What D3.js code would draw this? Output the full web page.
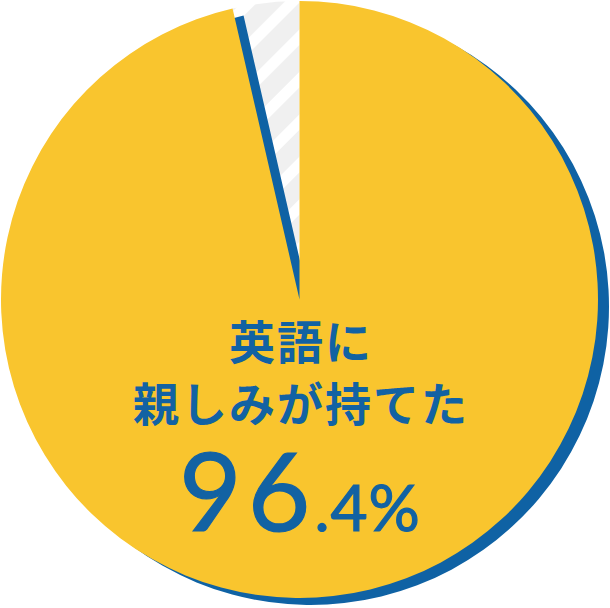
<!DOCTYPE html>
<html lang="ja">
<head>
<meta charset="utf-8">
<script src="https://cdn.jsdelivr.net/npm/d3@7"></script>
<style>
  html, body { margin: 0; padding: 0; background: #fff; }
</style>
</head>
<body>
<div id="chart"></div>
<script>
// chart values
const categories = ["英語に親しみが持てた", "その他"];
const values = [96.4, 3.6];
const labelLines = ["英語に", "親しみが持てた"];
const bigNumber = "96";
const smallNumber = ".4%";

const width = 610;
const height = 608;
const cx = 299.5, cy = 299.5, radius = 298.5;

const svg = d3.select('#chart')
    .append('svg')
    .attr('width', width)
    .attr('height', height);

// hatch pattern for the small slice
const defs = svg.append('defs');
const pattern = defs.append('pattern')
    .attr('id', 'hatch')
    .attr('patternUnits', 'userSpaceOnUse')
    .attr('width', 30)
    .attr('height', 30)
    .attr('patternTransform', 'rotate(45)');
pattern.append('rect').attr('width', 30).attr('height', 30).attr('fill', '#ffffff');
pattern.append('rect').attr('width', 19).attr('height', 30).attr('fill', '#f0f0f0');

const pie = d3.pie().sort(null).value(d => d);
const arcs = pie(values);

const arc = d3.arc().innerRadius(0).outerRadius(radius);

const g = svg.append('g')
    .attr('transform', `translate(${cx}, ${cy})`);

// hatched slice
g.append('path')
    .datum(arcs[1])
    .attr('d', arc)
    .attr('fill', 'url(#hatch)');

// blue shadow of the main slice
g.append('path')
    .datum(arcs[0])
    .attr('d', arc)
    .attr('transform', 'translate(11, 7)')
    .attr('fill', '#0f62a4');

// main slice
g.append('path')
    .datum(arcs[0])
    .attr('d', arc)
    .attr('fill', '#f9c52e');

// labels
const blue = '#1262a3';
const label = svg.append('g')
    .attr('fill', blue)
    .attr('text-anchor', 'middle');

label.selectAll('text.line')
    .data(labelLines)
    .enter()
    .append('text')
    .attr('class', 'line')
    .attr('x', 301)
    .attr('y', (d, i) => 359 + i * 62)
    .style('font-family', '"Noto Sans CJK JP", "Noto Sans", sans-serif')
    .style('font-weight', 700)
    .style('font-size', '46px')
    .style('letter-spacing', '2px')
    .text(d => d);

const num = label.append('text')
    .attr('x', 300)
    .attr('y', 531)
    .attr('stroke', blue)
    .attr('stroke-width', 1.2)
    .style('font-family', 'Lato, "Noto Sans", sans-serif')
    .style('font-weight', 400);
num.append('tspan')
    .style('font-size', '108px')
    .style('letter-spacing', '6px')
    .text(bigNumber);
num.append('tspan')
    .style('font-size', '64px')
    .style('letter-spacing', '1px')
    .attr('dx', -2)
    .text(smallNumber);
</script>
</body>
</html>
